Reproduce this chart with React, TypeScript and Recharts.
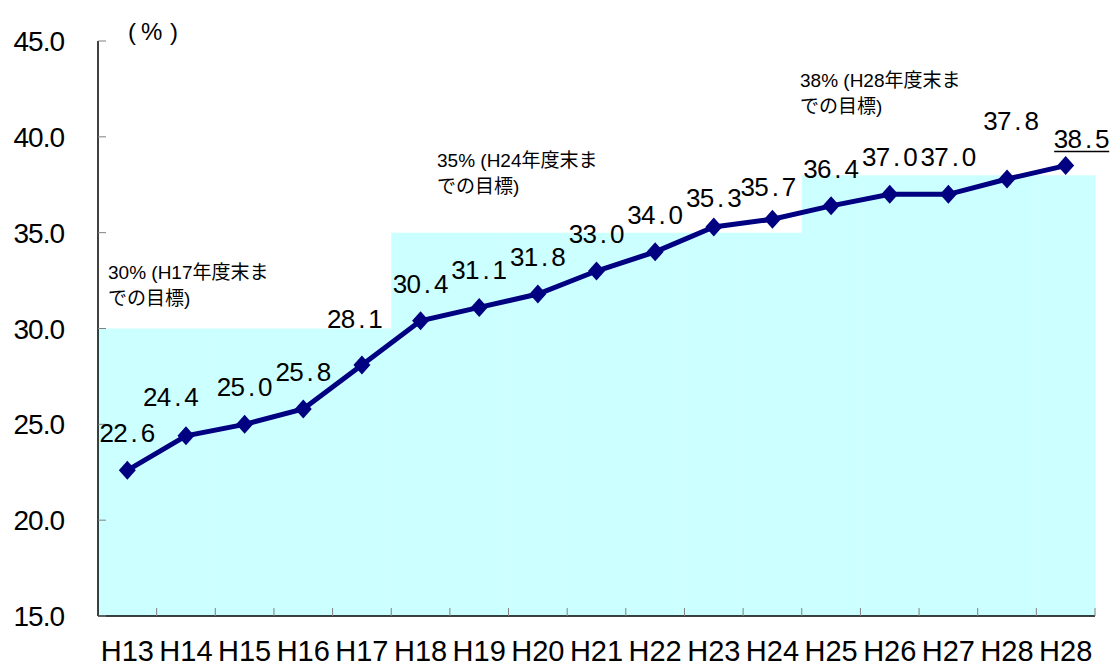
import React from 'react';
import { ComposedChart, Bar, Line, XAxis, YAxis, LabelList } from 'recharts';

// ---- data ----
const categories = ['H13', 'H14', 'H15', 'H16', 'H17', 'H18', 'H19', 'H20', 'H21', 'H22', 'H23', 'H24', 'H25', 'H26', 'H27', 'H28', 'H28'];
const rates = [22.6, 24.4, 25.0, 25.8, 28.1, 30.4, 31.1, 31.8, 33.0, 34.0, 35.3, 35.7, 36.4, 37.0, 37.0, 37.8, 38.5];
const targets = [30, 30, 30, 30, 30, 35, 35, 35, 35, 35, 35, 35, 38, 38, 38, 38, 38];
const yTicks = [15, 20, 25, 30, 35, 40, 45];
const unitParts = ['(', '%', ')'];
const targetNoteLine1 = ['30% (H17年度末ま', '35% (H24年度末ま', '38% (H28年度末ま'];
const targetNoteLine2 = ['での目標)', 'での目標)', 'での目標)'];

// ---- layout (not data) ----
const W = 1115;
const H = 667;
const M = { top: 41, right: 20, bottom: 0, left: 0 };
const Y_AXIS_W = 98;
const X_AXIS_H = 51;
const PLOT_W = W - M.left - M.right - Y_AXIS_W;
const BAND = PLOT_W / categories.length;
const NOTE_POS = [
  { x: 108, y: 279 },
  { x: 437, y: 167 },
  { x: 800, y: 87 },
];
const UNIT_X = [128, 141, 170];
const LABEL_NUDGE: Record<number, [number, number]> = {
  1: [-15, -2],
  4: [-7, -9],
  10: [0, 8],
  11: [-4, 5],
  15: [4, -21],
  16: [16, 10],
};

const data = categories.map((c, i) => ({ name: c, rate: rates[i], target: targets[i] }));

const LATIN = '"Liberation Sans", Arial, sans-serif';
const MIXED = '"Liberation Sans", "Noto Sans CJK JP", sans-serif';

const YTick = (props: any) => {
  const { x, y, payload } = props;
  return (
    <g>
      <line x1={x} x2={x + 8} y1={y} y2={y} stroke="#808080" strokeWidth={1} />
      <text x={x - 34} y={y + 10} textAnchor="end" fontSize={28} letterSpacing={-1} fontFamily={LATIN} fill="#000">
        {Number(payload.value).toFixed(1)}
      </text>
    </g>
  );
};

const XTick = (props: any) => {
  const { x, y, payload } = props;
  return (
    <g>
      <line x1={x + BAND / 2} x2={x + BAND / 2} y1={y} y2={y - 8} stroke="#808080" strokeWidth={1} />
      <text x={x} y={y + 45} textAnchor="middle" fontSize={29} fontFamily={LATIN} fill="#000">
        {payload.value}
      </text>
    </g>
  );
};

const Diamond = (props: any) => {
  const { cx, cy, index } = props;
  if (cx == null || cy == null) return null;
  return (
    <polygon
      key={`d-${index}`}
      points={`${cx},${cy - 9.5} ${cx + 8.5},${cy} ${cx},${cy + 9.5} ${cx - 8.5},${cy}`}
      fill="#000080"
    />
  );
};

const DataLabel = (props: any) => {
  const { x, y, value, index } = props;
  if (x == null || y == null) return null;
  const s = Number(value).toFixed(1);
  const cell = 13.75;
  const n = LABEL_NUDGE[index] || [0, 0];
  const cx = x + n[0];
  const by = y - 28 + n[1];
  const start = cx - (cell * s.length) / 2;
  const last = index === rates.length - 1;
  return (
    <g>
      <text fontSize={26} fontFamily={LATIN} fill="#000" textAnchor="middle">
        {s.split('').map((ch, i) => (
          <tspan key={i} x={start + cell * (i + 0.5)} y={by}>
            {ch}
          </tspan>
        ))}
      </text>
      {last && <line x1={start} x2={start + cell * s.length} y1={by + 4} y2={by + 4} stroke="#000" strokeWidth={1.5} />}
    </g>
  );
};

export default function App() {
  return (
    <div style={{ position: 'absolute', left: 0, top: 0, width: W, height: H, background: '#fff' }}>
      <ComposedChart width={W} height={H} data={data} margin={M} barCategoryGap={0} barGap={0}>
        <XAxis
          dataKey="name"
          allowDuplicatedCategory={true}
          height={X_AXIS_H}
          axisLine={{ stroke: '#000', strokeWidth: 1.5 }}
          tickLine={false}
          tickSize={0}
          tickMargin={0}
          interval={0}
          tick={<XTick />}
        />
        <YAxis
          domain={[15, 45]}
          ticks={yTicks}
          width={Y_AXIS_W}
          axisLine={{ stroke: '#000', strokeWidth: 1.5 }}
          tickLine={false}
          tickSize={0}
          tickMargin={0}
          interval={0}
          allowDataOverflow={true}
          tick={<YTick />}
        />
        <Bar dataKey="target" fill="#CCFFFF" stroke="none" isAnimationActive={false} />
        <Line
          dataKey="rate"
          stroke="#000080"
          strokeWidth={5}
          dot={<Diamond />}
          activeDot={false}
          isAnimationActive={false}
        >
          <LabelList dataKey="rate" content={<DataLabel />} />
        </Line>
      </ComposedChart>
      <svg width={W} height={H} style={{ position: 'absolute', left: 0, top: 0, pointerEvents: 'none' }}>
        <text fontSize={24} fontFamily={LATIN} fill="#000">
          {unitParts.map((p, i) => (
            <tspan key={i} x={UNIT_X[i]} y={40}>{p}</tspan>
          ))}
        </text>
        {NOTE_POS.map((p, i) => (
          <text key={i} fontSize={19} fontFamily={MIXED} fill="#000">
            <tspan x={p.x} y={p.y}>{targetNoteLine1[i]}</tspan>
            <tspan x={p.x} y={p.y + 26}>{targetNoteLine2[i]}</tspan>
          </text>
        ))}
      </svg>
    </div>
  );
}
